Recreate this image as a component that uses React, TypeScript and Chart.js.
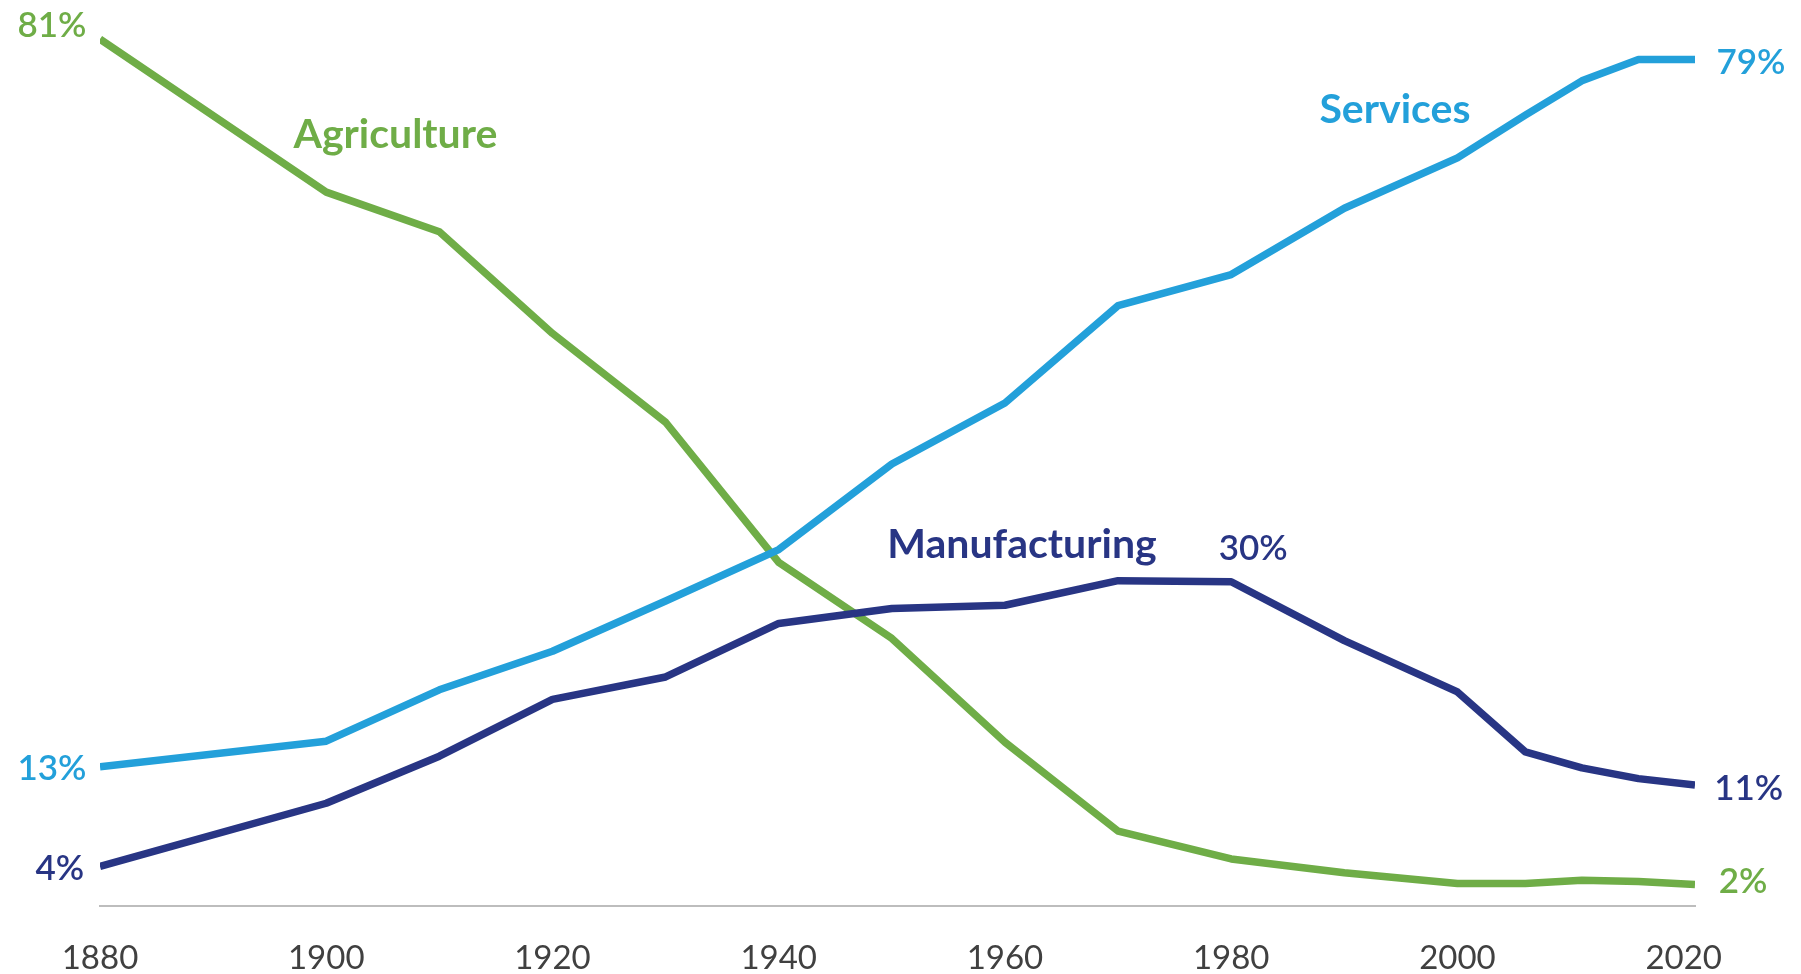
import React, { useEffect, useRef } from "react";
import { Chart, registerables } from "chart.js";

Chart.register(...registerables);

// ---- Data (share of employment, %) ----
const years = [1880, 1900, 1910, 1920, 1930, 1940, 1950, 1960, 1970, 1980, 1990, 2000, 2006, 2011, 2016, 2021];
const agriculture = [81.0, 66.7, 63.0, 53.5, 45.2, 32.1, 25.0, 15.3, 7.0, 4.4, 3.1, 2.1, 2.1, 2.4, 2.3, 2.0];
const services = [13.0, 15.4, 20.2, 23.8, 28.5, 33.3, 41.3, 47.0, 56.1, 59.0, 65.2, 69.9, 73.9, 77.1, 79.1, 79.1];
const manufacturing = [3.7, 9.6, 14.0, 19.3, 21.4, 26.4, 27.8, 28.1, 30.4, 30.3, 24.8, 20.0, 14.4, 12.9, 11.9, 11.3];
const xTickYears = [1880, 1900, 1920, 1940, 1960, 1980, 2000, 2020];
const seriesNames = ["Agriculture", "Services", "Manufacturing"];

const GREEN = "#6FAD47";
const BLUE = "#23A0DA";
const NAVY = "#283584";

// Text annotations, anchored in data space (year, value)
const nameLabels = [
  { text: seriesNames[0], year: 1897.1, value: 70.8, color: GREEN },
  { text: seriesNames[1], year: 1987.8, value: 73.2, color: BLUE },
  { text: seriesNames[2], year: 1949.6, value: 32.5, color: NAVY },
];
const valueLabels = [
  { text: "81%", year: 1878.8, value: 81.2, color: GREEN, align: "right" },
  { text: "13%", year: 1878.8, value: 11.8, color: BLUE, align: "right" },
  { text: "4%", year: 1878.6, value: 2.4, color: NAVY, align: "right" },
  { text: "79%", year: 2022.9, value: 77.7, color: BLUE, align: "left" },
  { text: "11%", year: 2022.7, value: 9.9, color: NAVY, align: "left" },
  { text: "2%", year: 2023.1, value: 1.2, color: GREEN, align: "left" },
  { text: "30%", year: 1978.9, value: 32.3, color: NAVY, align: "left" },
];

const FONT = "Lato, 'Open Sans', sans-serif";

export default function App() {
  const ref = useRef<HTMLCanvasElement>(null);

  useEffect(() => {
    if (!ref.current) return;
    const labelPlugin = {
      id: "lineLabels",
      afterDatasetsDraw(chart: any) {
        const { ctx } = chart;
        const x = chart.scales.x;
        const y = chart.scales.y;
        ctx.save();
        ctx.textBaseline = "alphabetic";
        for (const a of nameLabels) {
          ctx.font = `700 41px ${FONT}`;
          ctx.fillStyle = a.color;
          ctx.textAlign = "left";
          ctx.fillText(a.text, x.getPixelForValue(a.year), y.getPixelForValue(a.value));
        }
        for (const a of valueLabels) {
          ctx.font = `600 35px ${FONT}`;
          ctx.fillStyle = a.color;
          ctx.textAlign = a.align as CanvasTextAlign;
          ctx.fillText(a.text, x.getPixelForValue(a.year), y.getPixelForValue(a.value));
        }
        ctx.restore();
      },
    };

    const mk = (label: string, vals: number[], color: string, order: number) => ({
      label,
      data: years.map((yr, i) => ({ x: yr, y: vals[i] })),
      borderColor: color,
      backgroundColor: color,
      borderWidth: 7.5,
      pointRadius: 0,
      pointHoverRadius: 0,
      tension: 0,
      borderJoinStyle: "round" as const,
      order,
    });

    const chart = new Chart(ref.current, {
      type: "line",
      data: {
        datasets: [
          mk(seriesNames[0], agriculture, GREEN, 3),
          mk(seriesNames[1], services, BLUE, 2),
          mk(seriesNames[2], manufacturing, NAVY, 1),
        ],
      },
      options: {
        animation: false,
        responsive: true,
        maintainAspectRatio: false,
        layout: { padding: { top: 7, left: 100, right: 106, bottom: -37 } },
        plugins: { legend: { display: false }, tooltip: { enabled: false } },
        scales: {
          x: {
            type: "linear",
            min: 1880,
            max: 2021,
            afterBuildTicks: (scale: any) => {
              scale.ticks = xTickYears.map((v) => ({ value: v }));
            },
            grid: { display: false, drawTicks: false },
            border: { display: true, color: "#BDBDBD", width: 2 },
            ticks: {
              padding: 36,
              color: "#404040",
              font: { family: FONT, size: 33, lineHeight: 1 },
              maxRotation: 0,
              autoSkip: false,
              callback: (v: any) => String(v),
            },
          },
          y: {
            display: false,
            min: 0,
            max: 84,
          },
        },
      },
      plugins: [labelPlugin],
    });
    return () => chart.destroy();
  }, []);

  return (
    <div style={{ position: "fixed", left: 0, top: 0, width: 1801, height: 974, background: "#ffffff" }}>
      <canvas ref={ref} />
    </div>
  );
}
